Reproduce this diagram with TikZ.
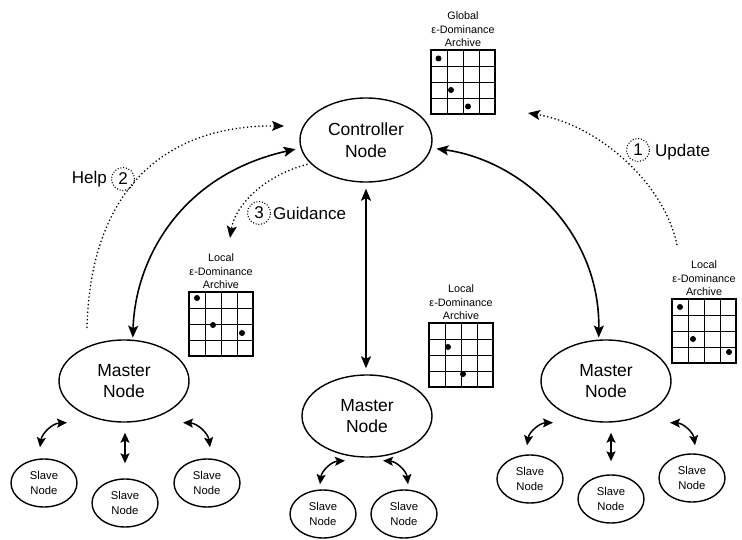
\documentclass[tikz,border=0pt]{standalone}
\usepackage{fontspec}
\setmainfont{Liberation Sans}
\usetikzlibrary{arrows.meta,shapes.geometric,calc}
\newcommand{\archgrid}[4]{%
  \node[archlbl] (#1) at (#2+32,#3-3) {#4\\ε-Dominance\\Archive};
  \foreach \k in {16,32,48}{%
    \draw[gridln] (#2+\k,#3) -- (#2+\k,#3+64);
    \draw[gridln] (#2,#3+\k) -- (#2+64,#3+\k);
  }
  \draw[gridbord] (#2,#3) rectangle (#2+64,#3+64);
}
\begin{document}
\begin{tikzpicture}[x=1pt,y=-1pt,
  bigell/.style={draw, ellipse, line width=1.4pt, minimum width=130pt, minimum height=82pt, inner sep=0pt, align=center, font=\fontsize{17.5}{21.5}\selectfont},
  slave/.style={draw, ellipse, line width=1.4pt, minimum width=66pt, minimum height=48pt, inner sep=0pt, align=center, font=\fontsize{11.3}{14.5}\selectfont},
  archlbl/.style={anchor=south, align=center, inner sep=0pt, font=\fontsize{10.8}{13.5}\selectfont},
  gridln/.style={line width=0.9pt},
  gridbord/.style={line width=1.5pt},
  bigarrow/.style={line width=1.6pt, {Stealth[length=12pt,width=10pt,inset=2.5pt]}-{Stealth[length=12pt,width=10pt,inset=2.5pt]}},
  smallarrow/.style={line width=1.5pt, {Stealth[length=10pt,width=9pt,inset=2pt]}-{Stealth[length=10pt,width=9pt,inset=2pt]}},
  dotline/.style={line width=1.3pt, dash pattern=on 1.3pt off 2.5pt, -{Stealth[length=12pt,width=10pt,inset=2.5pt]}},
  numcirc/.style={circle, draw, line width=1.1pt, dash pattern=on 1pt off 1.8pt, minimum size=23pt, inner sep=0pt, font=\fontsize{17}{17}\selectfont},
  lbl/.style={font=\fontsize{17}{17}\selectfont, inner sep=0pt},
  dotmark/.style={fill=black}
]
\useasboundingbox (0,0) rectangle (742,540);

% main nodes
\node[bigell, minimum width=132pt, minimum height=84pt] (ctrl) at (366,140) {Controller\\Node};
\node[bigell] (lm) at (124,381) {Master\\Node};
\node[bigell] (mm) at (367,416) {Master\\Node};
\node[bigell] (rm) at (606,381) {Master\\Node};

% slave nodes
\node[slave] (L1) at (44,483) {Slave\\Node};
\node[slave] (L2) at (125,503) {Slave\\Node};
\node[slave] (L3) at (207,483) {Slave\\Node};
\node[slave] (M1) at (323,514) {Slave\\Node};
\node[slave] (M2) at (404,514) {Slave\\Node};
\node[slave] (R1) at (530,479) {Slave\\Node};
\node[slave] (R2) at (611,499) {Slave\\Node};
\node[slave] (R3) at (692,478) {Slave\\Node};

% archives
\archgrid{garch}{431}{50}{Global}
\fill[dotmark] (438.5,58.5) circle[radius=3pt];
\fill[dotmark] (451,90) circle[radius=3pt];
\fill[dotmark] (468,106.5) circle[radius=3pt];

\archgrid{larch}{189}{292}{Local}
\fill[dotmark] (197,298) circle[radius=3pt];
\fill[dotmark] (213,325) circle[radius=3pt];
\fill[dotmark] (242,333) circle[radius=3pt];

\archgrid{march}{429}{323}{Local}
\fill[dotmark] (448,347) circle[radius=3pt];
\fill[dotmark] (463,374) circle[radius=3pt];

\archgrid{rarch}{672}{299}{Local}
\fill[dotmark] (680,307) circle[radius=3pt];
\fill[dotmark] (693,339) circle[radius=3pt];
\fill[dotmark] (729,352) circle[radius=3pt];

% controller - master connectors
\draw[bigarrow, shorten <=2pt, shorten >=5pt] (lm.78) .. controls (135,260) and (180,175) .. (ctrl.187);
\draw[bigarrow, shorten <=5pt, shorten >=2pt] (ctrl.353) .. controls (520,160) and (600,230) .. (rm.100);
\draw[bigarrow, shorten <=6pt, shorten >=6pt] (ctrl.south) -- (ctrl.south |- mm.north);

% dotted messages
\coordinate (helpstart) at (87,328);
\coordinate (helpend) at (284,126);
\draw[dotline] (helpstart) .. controls (90,195) and (160,125) .. (helpend);
\coordinate (updstart) at (677,245);
\coordinate (updend) at (528,113);
\draw[dotline] (updstart) .. controls (665,185) and (600,125) .. (updend);
\coordinate (guidend) at (230,238);
\draw[dotline, shorten <=3pt] (ctrl.203) .. controls (265,175) and (235,205) .. (guidend);

\node[numcirc] (n1) at (638,150) {1};
\node[lbl, anchor=west] (upd) at (655,152) {Update};
\node[numcirc] (n2) at (123,179) {2};
\node[lbl, anchor=east] (help) at (107,179) {Help};
\node[numcirc] (n3) at (259,213) {3};
\node[lbl, anchor=west] (guid) at (273,213) {Guidance};

% master - slave connectors
\draw[smallarrow] ([xshift=-4pt,yshift=11pt]L1.north) to[bend left=40] ([xshift=-57pt]lm.south);
\draw[smallarrow, shorten <=10pt, shorten >=15pt] (lm.south -| L2.north) -- (L2.north);
\draw[smallarrow] ([xshift=59pt]lm.south) to[bend left=40] ([xshift=3pt,yshift=11pt]L3.north);

\draw[smallarrow] ([xshift=-3pt,yshift=5pt]M1.north) to[bend left=40] ([xshift=-22pt,yshift=-3pt]mm.south);
\draw[smallarrow] ([xshift=16pt,yshift=-3pt]mm.south) to[bend left=40] ([xshift=4pt,yshift=5pt]M2.north);

\draw[smallarrow] ([xshift=-3pt,yshift=9pt]R1.north) to[bend left=40] ([xshift=-53pt]rm.south);
\draw[smallarrow, shorten <=10pt, shorten >=13pt] (rm.south -| R2.north) -- (R2.north);
\draw[smallarrow] ([xshift=64pt]rm.south) to[bend left=40] ([xshift=3pt,yshift=8pt]R3.north);
\end{tikzpicture}
\end{document}
